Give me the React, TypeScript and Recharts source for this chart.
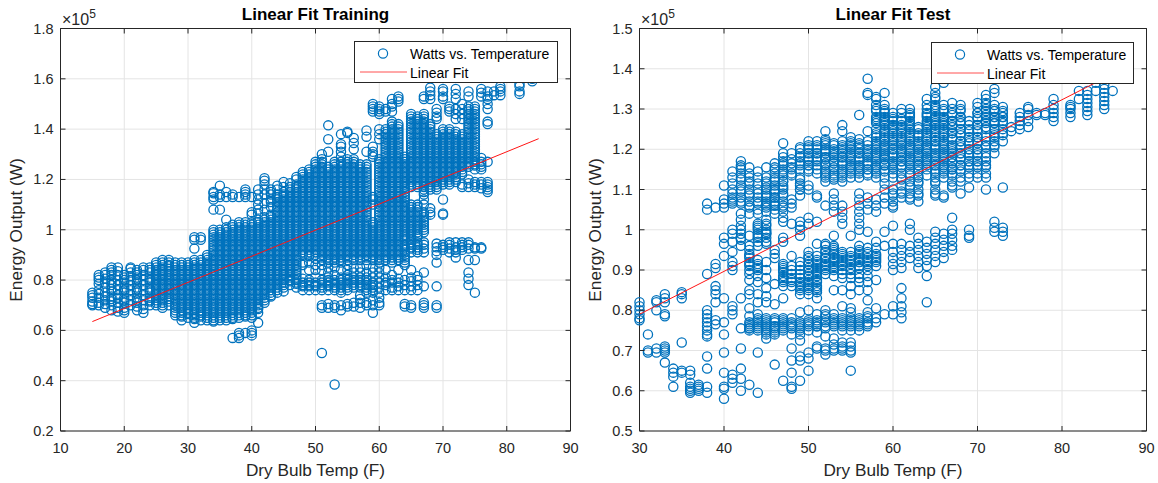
import { CartesianGrid, Scatter, ScatterChart, XAxis, YAxis } from "recharts";

// values: [dry bulb temp in F, [output in kW, ...]]
const trainColumns: [number, number[]][] = [
  [15, [70, 70.5, 71.5, 73, 74, 75]],
  [16, [70, 71, 73, 74.5, 76, 78.5, 80, 81, 82]],
  [17, [69, 70.5, 72, 73.5, 75, 77, 79, 80.5, 82, 83]],
  [18, [68, 70, 71.5, 73.5, 75.5, 78, 80, 82, 84, 85]],
  [19, [67.5, 69, 71, 73, 74, 76, 78, 80, 82, 83.5, 85]],
  [20, [67, 69, 71, 73, 75, 77, 79, 81, 82]],
  [21, [70, 72, 74, 76, 78, 80, 81.5, 83, 84.5, 85]],
  [22, [68, 69.5, 71, 73, 75, 77, 79, 81, 83, 84]],
  [23, [67, 68.5, 70, 72, 74, 76, 78, 80, 82, 84, 85]],
  [24, [70, 71.5, 73, 75, 77, 79, 81, 83, 85]],
  [25, [70, 72, 74, 76, 78, 80, 82, 84, 86, 87]],
  [26, [69, 71, 73, 75, 77, 79, 81, 83, 85, 87, 88]],
  [27, [70, 71.5, 73.5, 75.5, 77.5, 79.5, 81.5, 83.5, 85.5, 87, 88]],
  [28, [66, 68, 70, 72, 74, 76, 78, 80, 82, 84, 86, 87]],
  [29, [64, 65.5, 67, 69, 71, 73, 75, 77, 79, 81, 83, 85, 87]],
  [30, [65, 66.5, 68, 70, 72, 74, 76, 78, 80, 82, 84, 86, 87]],
  [31, [63, 64.5, 66, 68, 70, 72, 74, 76, 78, 80, 82, 84, 86, 88, 92.5, 96, 97]],
  [32, [64, 65.5, 67, 69, 71, 73, 75, 77, 79, 81, 83, 85, 87, 88, 96, 97]],
  [33, [64, 65, 67, 69, 71, 73, 75, 77, 79, 81, 83, 85, 87, 89, 90]],
  [34, [63.5, 65, 67, 69, 71, 73, 75, 77, 79, 81, 83, 85, 87, 89, 91, 93, 95, 97, 99, 100, 108, 112, 113, 114.5, 115]],
  [35, [64, 66, 68, 70, 72, 74, 76, 78, 80, 82, 84, 86, 88, 90, 92, 94, 96, 98, 100, 108, 113, 114, 117.5]],
  [36, [64, 65, 67, 69, 71, 73, 75, 77, 79, 81, 83, 85, 87, 89, 91, 93, 95, 97, 99, 101, 104, 113, 115]],
  [37, [57, 64.5, 66, 68, 70, 72, 74, 76, 78, 80, 82, 84, 86, 88, 90, 92, 94, 96, 98, 100, 102, 113, 114]],
  [38, [57, 58, 59, 65, 67, 69, 71, 73, 75, 77, 79, 81, 83, 85, 87, 89, 91, 93, 95, 97, 99, 101, 103, 113]],
  [39, [59, 65.5, 67, 69, 71, 73, 75, 77, 79, 81, 83, 85, 87, 89, 91, 93, 95, 97, 99, 101, 103, 113, 114, 115, 116]],
  [40, [58, 59, 60, 65, 67, 69, 71, 73, 75, 77, 79, 81, 83, 85, 87, 89, 91, 93, 95, 97, 99, 101, 103, 106, 107, 113]],
  [41, [63, 67, 68.5, 70, 72, 74, 76, 78, 80, 82, 84, 86, 88, 90, 92, 94, 96, 98, 100, 102, 104, 106.5, 108, 110, 112, 114, 116]],
  [42, [71, 73, 75, 77, 79, 81, 83, 85, 87, 89, 91, 93, 95, 97, 99, 101, 103, 105, 108, 110.5, 114, 116, 118, 119.5, 120.5]],
  [43, [73.5, 75, 77, 79, 81, 83, 85, 87, 89, 91, 93, 95, 97, 99, 101, 103, 105, 106, 109, 111, 112, 114, 115, 116]],
  [44, [75, 76, 78, 80, 82, 84, 86, 88, 90, 92, 94, 96, 98, 100, 102, 104, 106, 108, 110, 112, 114, 116, 117.5]],
  [45, [75.5, 77, 79, 81, 83, 85, 87, 89, 91, 93, 95, 97, 99, 101, 103, 105, 107, 109, 111, 113, 115, 117, 119]],
  [46, [78, 79.5, 81, 83, 85, 87, 89, 91, 93, 95, 97, 99, 101, 103, 105, 107, 109, 111, 113, 115, 117, 118.5]],
  [47, [77, 78.5, 80, 82, 84, 86, 88, 90, 92, 94, 96, 98, 100, 102, 104, 106, 108, 110, 112, 114, 116, 118, 120, 121]],
  [48, [76, 77.5, 79, 80.5, 86, 87, 90, 92, 94, 96, 98, 100, 102, 104, 106, 108, 110, 112, 114, 116, 118, 120, 122, 123]],
  [49, [76, 77.5, 79, 80, 84, 87, 89.5, 91, 93, 95, 97, 99, 101, 103, 105, 107, 109, 111, 113, 115, 117, 119, 121, 123, 124]],
  [50, [76, 77.5, 79, 81, 84, 86, 88.5, 90, 92, 94, 96, 98, 100, 102, 104, 106, 108, 110, 112, 114, 116, 118, 120, 122, 124, 126, 127]],
  [51, [51, 69, 70, 76, 78, 80, 84, 86, 88, 90, 92, 94, 96, 98, 100, 102, 104, 106, 108, 110, 112, 114, 116, 118, 120, 122, 124, 126, 128, 130]],
  [52, [69, 70.5, 76, 77.5, 79, 81, 83, 85, 87, 89, 91, 93, 95, 97, 99, 101, 103, 105, 107, 109, 111, 113, 115, 117, 119, 121, 123, 125, 131, 136, 141.5]],
  [53, [38.5, 69, 70, 76, 78, 80, 82, 85, 87, 89, 91, 93, 95, 97, 99, 101, 103, 105, 107, 109, 111, 113, 115, 117, 119, 121, 123, 125, 127]],
  [54, [68, 70, 75, 77, 79, 81, 84, 87, 89, 91, 93, 95, 97, 99, 101, 103, 105, 107, 109, 111, 113, 115, 117, 119, 121, 123, 125, 127, 129, 131, 133, 134, 138]],
  [55, [69.5, 70.5, 76, 78, 80, 82, 84, 86, 88, 90, 92, 94, 96, 98, 100, 102, 104, 106, 108, 110, 112, 114, 116, 118, 120, 122, 124, 126, 128, 138.5, 139]],
  [56, [69.5, 71, 77, 79, 81, 83, 85, 88, 90, 92, 94, 96, 98, 100, 102, 104, 106, 108, 110, 112, 114, 116, 118, 120, 122, 124, 126, 128, 132, 134.5, 136.5]],
  [57, [69, 71, 72.5, 74, 77, 79, 81, 83, 85, 88, 90, 92, 94, 96, 98, 100, 102, 104, 106, 108, 110, 112, 114, 116, 118, 120, 122, 124, 126]],
  [58, [70, 71, 75, 77, 79, 81, 83, 86, 88, 90, 92, 94, 96, 98, 100, 102, 104, 106, 108, 110, 112, 114, 116, 118, 120, 122, 124, 126, 131, 137, 139.5]],
  [59, [67, 70, 72, 75, 77, 79, 81, 83, 85, 88, 90, 92, 94, 96, 98, 100, 102, 103, 110, 112, 113, 129, 130, 131, 133, 147, 148, 149, 150]],
  [60, [70, 71, 73, 75, 77, 79, 81, 83, 85, 87, 89, 91, 93, 95, 97, 99, 101, 103, 105, 107, 109, 111, 113, 115, 117, 119, 121, 123, 125, 127, 128, 136, 138, 140, 146, 147, 148, 149]],
  [61, [76, 78, 79, 81, 84, 88, 90, 92, 94, 96, 98, 100, 102, 104, 106, 108, 110, 112, 114, 116, 118, 120, 122, 124, 126, 128, 130, 132, 134, 136, 138, 140, 147, 148]],
  [62, [76, 77, 79, 80, 82, 87, 89, 91, 93, 95, 97, 99, 101, 103, 105, 107, 109, 111, 113, 115, 117, 119, 121, 123, 125, 127, 129, 131, 133, 135, 137, 139, 141, 143, 147, 149, 150, 152]],
  [63, [76, 77.5, 79, 80.5, 84, 88, 90, 92, 94, 96, 98, 100, 102, 104, 106, 108, 110, 112, 114, 116, 118, 120, 122, 124, 126, 128, 130, 132, 134, 136, 138, 140, 142, 151, 152, 153]],
  [64, [69.5, 70.5, 76, 78, 80, 86, 88, 90, 92, 94, 97, 99, 101, 103, 105, 107, 109, 111, 113, 115, 117, 119, 121, 123, 125, 127, 129]],
  [65, [69, 70, 76, 77.5, 79.5, 81, 84, 91, 92.5, 94, 96, 98, 100, 102, 104, 106, 108, 110, 117, 119, 121, 123, 125, 127, 129, 131, 133, 135, 137, 139, 141, 143, 145, 146]],
  [66, [76, 78, 80, 81.5, 91, 93, 95, 98, 100, 102, 104, 106, 108, 110, 117, 119, 121, 123, 125, 127, 129, 131, 133, 135, 137, 139, 141, 143, 145]],
  [67, [69, 70, 71, 77.5, 83, 91, 92.5, 94, 95, 99, 101, 103, 105, 107, 110, 112, 114, 116, 118, 120, 122, 124, 126, 128, 130, 132, 134, 136, 138, 140, 142, 144, 146, 152, 153]],
  [68, [106, 107, 108.5, 116, 118, 120, 122, 124, 126, 128, 130, 132, 134, 136, 138, 140, 142, 152, 153.5, 155, 156.5]],
  [69, [69, 70, 77.5, 87, 90, 91.5, 93, 94.5, 116, 118, 120, 122, 124, 126, 128, 130, 132, 134, 136, 138, 144, 145, 146.5, 148]],
  [70, [92, 93, 94, 106, 106.5, 112, 118, 120, 122, 124, 126, 128, 130, 132, 134, 136, 138, 140, 152, 153, 155, 156]],
  [71, [91, 92.5, 94, 95, 118, 120, 122, 124, 126, 128, 130, 132, 134, 136, 138, 140, 147, 148, 149]],
  [72, [89, 91, 92, 93, 95, 119, 121, 123, 125, 127, 129, 131, 133, 135, 137, 139, 144, 146, 148, 152, 154, 156]],
  [73, [92, 93, 94, 95, 117, 118, 122, 124, 126, 128, 130, 132, 134, 136, 138, 144, 146, 148, 150]],
  [74, [78, 80.5, 83, 88, 92.5, 94, 95, 117, 118.5, 120, 125, 127, 129, 131, 133, 135, 137, 139, 141, 143, 145, 147, 149, 153, 155]],
  [75, [75, 88, 92.5, 93, 117, 118, 119, 124, 125.5, 127, 129, 131, 133, 135, 137, 139, 141, 143, 145, 147, 149]],
  [76, [92.5, 93, 116.5, 118, 119, 124, 125, 126, 127, 128.5, 153, 154.5, 156]],
  [77, [115, 116, 117, 118, 119, 127, 142, 143, 148, 150, 152, 153, 155]],
  [78, [153.5, 155]],
  [79, [153.5, 155, 156, 157]],
  [82, [154, 155, 157, 158]],
  [84, [159, 160]],
];

// second pass over the crowded stretches of the training cloud
const trainCrowded: [number, number[]][] = [
  [18, [72.5, 76.5, 79, 83]],
  [20, [68, 72, 76, 80]],
  [22, [72, 76, 80, 82]],
  [24, [72, 76, 80, 84]],
  [25, [71, 73, 75, 77, 79, 81, 83, 85]],
  [26, [70, 72, 74, 76, 78, 80, 82, 84, 86]],
  [27, [72.5, 74.5, 76.5, 78.5, 80.5, 82.5, 84.5, 86]],
  [28, [67, 69, 71, 73, 75, 77, 79, 81, 83, 85]],
  [29, [66, 68, 70, 72, 74, 76, 78, 80, 82, 84, 86]],
  [30, [67, 69, 71, 73, 75, 77, 79, 81, 83, 85]],
  [31, [65, 67, 69, 71, 73, 75, 77, 79, 81, 83, 85, 87]],
  [32, [66, 68, 70, 72, 74, 76, 78, 80, 82, 84, 86]],
  [33, [66, 68, 70, 72, 74, 76, 78, 80, 82, 84, 86, 88]],
  [34, [64, 66, 68, 70, 72, 74, 76, 78, 80, 82, 84, 86, 88, 90, 92, 94, 96, 98]],
  [35, [65, 67, 69, 71, 73, 75, 77, 79, 81, 83, 85, 87, 89, 91, 93, 95, 97, 99]],
  [36, [66, 68, 70, 72, 74, 76, 78, 80, 82, 84, 86, 88, 90, 92, 94, 96, 98, 100]],
  [37, [65, 67, 69, 71, 73, 75, 77, 79, 81, 83, 85, 87, 89, 91, 93, 95, 97, 99, 101]],
  [38, [66, 68, 70, 72, 74, 76, 78, 80, 82, 84, 86, 88, 90, 92, 94, 96, 98, 100, 102]],
  [39, [66, 68, 70, 72, 74, 76, 78, 80, 82, 84, 86, 88, 90, 92, 94, 96, 98, 100, 102]],
  [40, [66, 68, 70, 72, 74, 76, 78, 80, 82, 84, 86, 88, 90, 92, 94, 96, 98, 100, 102]],
  [41, [69, 71, 73, 75, 77, 79, 81, 83, 85, 87, 89, 91, 93, 95, 97, 99, 101, 103]],
  [42, [72, 74, 76, 78, 80, 82, 84, 86, 88, 90, 92, 94, 96, 98, 100, 102, 104]],
  [43, [74, 76, 78, 80, 82, 84, 86, 88, 90, 92, 94, 96, 98, 100, 102, 104]],
  [44, [77, 79, 81, 83, 85, 87, 89, 91, 93, 95, 97, 99, 101, 103, 105, 107, 109, 111, 113]],
  [45, [78, 80, 82, 84, 86, 88, 90, 92, 94, 96, 98, 100, 102, 104, 106, 108, 110, 112, 114]],
  [46, [80, 82, 84, 86, 88, 90, 92, 94, 96, 98, 100, 102, 104, 106, 108, 110, 112, 114, 116]],
  [47, [79, 81, 83, 85, 87, 89, 91, 93, 95, 97, 99, 101, 103, 105, 107, 109, 111, 113, 115, 117]],
  [48, [78, 91, 93, 95, 97, 99, 101, 103, 105, 107, 109, 111, 113, 115, 117, 119, 121]],
  [49, [78, 90, 92, 94, 96, 98, 100, 102, 104, 106, 108, 110, 112, 114, 116, 118, 120, 122]],
  [50, [78, 91, 93, 95, 97, 99, 101, 103, 105, 107, 109, 111, 113, 115, 117, 119, 121, 123, 125]],
  [51, [77, 79, 89, 91, 93, 95, 97, 99, 101, 103, 105, 107, 109, 111, 113, 115, 117, 119, 121, 123, 125, 127]],
  [52, [78, 80, 88, 90, 92, 94, 96, 98, 100, 102, 104, 106, 108, 110, 112, 114, 116, 118, 120, 122, 124]],
  [53, [77, 79, 88, 90, 92, 94, 96, 98, 100, 102, 104, 106, 108, 110, 112, 114, 116, 118, 120, 122, 124, 126]],
  [54, [76, 78, 80, 88, 90, 92, 94, 96, 98, 100, 102, 104, 106, 108, 110, 112, 114, 116, 118, 120, 122, 124, 126]],
  [55, [77, 79, 81, 89, 91, 93, 95, 97, 99, 101, 103, 105, 107, 109, 111, 113, 115, 117, 119, 121, 123, 125, 127]],
  [56, [78, 80, 89, 91, 93, 95, 97, 99, 101, 103, 105, 107, 109, 111, 113, 115, 117, 119, 121, 123, 125, 127]],
  [57, [78, 80, 89, 91, 93, 95, 97, 99, 101, 103, 105, 107, 109, 111, 113, 115, 117, 119, 121, 123, 125]],
  [58, [76, 78, 80, 89, 91, 93, 95, 97, 99, 101, 103, 105, 107, 109, 111, 113, 115, 117, 119, 121, 123, 125]],
  [59, [76, 78, 89, 91, 93, 95, 97, 99, 101]],
  [60, [88, 90, 92, 94, 96, 98, 100, 102, 104, 106, 108, 110, 112, 114, 116, 118, 120, 122, 124, 126]],
  [61, [89, 91, 93, 95, 97, 99, 101, 103, 105, 107, 109, 111, 113, 115, 117, 119, 121, 123, 125, 127, 129, 131, 133, 135, 137, 139]],
  [62, [88, 90, 92, 94, 96, 98, 100, 102, 104, 106, 108, 110, 112, 114, 116, 118, 120, 122, 124, 126, 128, 130, 132, 134, 136, 138, 140, 142]],
  [63, [89, 91, 93, 95, 97, 99, 101, 103, 105, 107, 109, 111, 113, 115, 117, 119, 121, 123, 125, 127, 129, 131, 133, 135, 137, 139, 141]],
  [64, [87, 89, 91, 93, 96, 98, 100, 102, 104, 106, 108, 110, 112, 114, 116, 118, 120, 122, 124, 126, 128]],
  [65, [93, 95, 97, 99, 101, 103, 105, 107, 109, 118, 120, 122, 124, 126, 128, 130, 132, 134, 136, 138, 140, 142, 144]],
  [66, [92, 94, 97, 99, 101, 103, 105, 107, 109, 118, 120, 122, 124, 126, 128, 130, 132, 134, 136, 138, 140, 142, 144]],
  [67, [100, 102, 104, 106, 115, 117, 119, 121, 123, 125, 127, 129, 131, 133, 135, 137, 139, 141, 143, 145]],
  [68, [117, 119, 121, 123, 125, 127, 129, 131, 133, 135, 137, 139, 141]],
  [69, [117, 119, 121, 123, 125, 127, 129, 131, 133, 135, 137]],
  [70, [119, 121, 123, 125, 127, 129, 131, 133, 135, 137, 139]],
  [71, [119, 121, 123, 125, 127, 129, 131, 133, 135, 137, 139]],
  [72, [120, 122, 124, 126, 128, 130, 132, 134, 136, 138]],
  [73, [123, 125, 127, 129, 131, 133, 135, 137]],
  [74, [126, 128, 130, 132, 134, 136, 138, 140, 142, 144, 146, 148]],
  [75, [126, 128, 130, 132, 134, 136, 138, 140, 142, 144, 146, 148]],
];

const testColumns: [number, number[]][] = [
  [30, [77.5, 78, 79, 80, 81, 82]],
  [31, [69.5, 70, 74]],
  [32, [69.5, 70.5, 80, 82, 82.5]],
  [33, [67, 69.5, 70, 70.5, 71, 78.5, 79, 82, 83, 84]],
  [34, [61, 63.5, 64.5, 65.5]],
  [35, [64.5, 65, 72, 83, 84, 84.5]],
  [36, [59.5, 60, 60.5, 61, 62, 64, 65]],
  [37, [60, 60.5, 61, 61.5]],
  [38, [59.5, 61, 65.5, 68.5, 73.5, 74, 75, 76, 77, 78, 79, 80, 89, 105, 106.5]],
  [39, [76.5, 77.5, 82, 84, 85, 86, 90.5, 91.5, 105.5]],
  [40, [58, 60.5, 61, 64.5, 69.5, 74, 77, 83, 93.5, 96.5, 98, 105.5, 106.5, 107.5, 111]],
  [41, [62, 63, 64, 79, 80, 81, 90, 91, 92, 94.5, 97, 99, 100, 106.5, 107, 109, 111.5, 114.5]],
  [42, [60, 63, 65.5, 70.5, 75.5, 83, 97.5, 99, 100, 101, 102.5, 106.5, 108, 109.5, 111, 112.5, 114, 115, 116, 117]],
  [43, [61.5, 75, 75.5, 76, 77, 78.5, 80.5, 84, 85, 87.5, 90, 91, 92, 93, 94, 95, 98.5, 105.5, 107, 108.5, 110, 111.5, 113, 114, 115.5]],
  [44, [59.5, 69.5, 75.5, 76.5, 77.5, 79, 82, 84, 87, 88.5, 90, 91, 92.5, 96, 97, 98, 99, 100, 101, 101.5, 104, 106.5, 108, 109, 111.5, 114.5]],
  [45, [73, 74, 75, 76, 77, 78, 82, 83.5, 85.5, 88, 90, 92, 96.5, 98, 99, 100, 101, 102.5, 105.5, 107, 108, 109, 110, 111.5, 113, 115.5]],
  [46, [66.5, 74, 75, 76, 77, 78, 81.5, 86.5, 93, 94, 95, 105, 106, 107, 108, 109, 110, 111, 112.5, 114, 115.5, 116.5]],
  [47, [62.5, 75, 76, 77, 78, 83, 86, 87, 88, 89.5, 90.5, 91.5, 97, 98, 102, 103, 105.5, 107, 108.5, 110, 111, 112, 113.5, 115, 116.5, 118, 119, 121.5]],
  [48, [60.5, 61, 64.5, 67.5, 70.5, 74, 75.5, 77, 78, 86, 87, 89, 91, 93.5, 101.5, 105.5, 107.5, 113.5, 115, 116.5, 119]],
  [49, [62.5, 67.5, 68.5, 72.5, 74, 75.5, 77, 79.5, 84, 85, 87, 89, 91, 98.5, 100, 101, 102, 108.5, 110, 111, 112.5, 115, 116.5, 118, 120, 120.5]],
  [50, [65, 68, 69.5, 75, 76.5, 77.5, 80, 84, 85.5, 87, 88.5, 90, 91.5, 93, 94.5, 101.5, 103, 110, 111, 114.5, 116, 117.5, 119, 120.5, 122]],
  [51, [70.5, 71, 74.5, 76, 77.5, 79, 83, 84.5, 86, 87.5, 89, 90.5, 92, 93.5, 96.5, 102, 108, 108.5, 114, 116, 117.5, 119, 120.5, 122]],
  [52, [69, 70, 70.5, 73.5, 75.5, 77, 78.5, 80, 90, 91.5, 93, 94.5, 96.5, 106, 112, 113.5, 115, 116.5, 118, 119.5, 121, 122.5, 124.5]],
  [53, [70, 70.5, 71.5, 73, 76, 77.5, 79, 85, 90, 91.5, 93, 94.5, 96, 98.5, 104.5, 106, 107.5, 109, 112.5, 114, 115.5, 117, 118.5, 120, 121.5]],
  [54, [70, 70.5, 71, 72, 75, 76.5, 78, 81, 85, 88, 90, 91.5, 93, 94.5, 101.5, 103, 104.5, 106, 112, 113.5, 115, 116.5, 118, 119.5, 121, 122, 124.5, 126]],
  [55, [65, 69.5, 70, 71, 72, 75, 76.5, 78, 79.5, 80.5, 84, 86, 88, 90, 91.5, 93.5, 98.5, 113, 114.5, 116, 117.5, 119, 120.5, 122, 123]],
  [56, [75, 76.5, 78, 85, 87, 89, 90.5, 92, 93.5, 95, 96, 100, 101.5, 103, 104.5, 106, 107.5, 109, 113, 114.5, 116, 117.5, 119, 120.5, 122.5, 128.5]],
  [57, [76, 77, 78, 79.5, 82.5, 85, 87, 88.5, 91, 92.5, 94, 95.5, 99.5, 105, 106.5, 108, 113.5, 115, 116.5, 118, 119.5, 121, 124.5, 133.5, 134, 137.5]],
  [58, [77, 78, 80.5, 87.5, 91, 92.5, 94, 95.5, 97, 104.5, 106, 107.5, 113, 114.5, 116, 117.5, 119, 120.5, 122, 123.5, 125, 126.5, 128, 129.5, 131, 132.5]],
  [59, [79, 96, 99.5, 106.5, 108, 110, 111.5, 113, 114.5, 116, 117.5, 119, 120.5, 122, 123.5, 125, 126.5, 128, 129.5, 131, 134]],
  [60, [79, 81, 90, 91.5, 93, 94.5, 96.5, 101, 105.5, 107, 108.5, 110, 114, 115.5, 117, 118.5, 120, 121.5, 123, 124.5, 126, 127.5, 129]],
  [61, [78, 79.5, 81, 83, 85.5, 90.5, 92, 93.5, 95, 96.5, 108, 109.5, 111, 112.5, 114, 115.5, 117, 118.5, 120, 121.5, 123, 124.5, 126, 127.5, 129, 130]],
  [62, [93, 94.5, 96, 100, 101.5, 107.5, 109, 110.5, 112, 113.5, 115, 116.5, 118, 119.5, 121, 122.5, 124, 125.5, 127, 128.5, 130]],
  [63, [90.5, 92, 93.5, 95, 96.5, 98, 107, 108.5, 110, 111.5, 113, 114.5, 116, 117.5, 119, 120.5, 122, 123.5, 125, 125.5]],
  [64, [82, 88.5, 91, 92.5, 94, 95.5, 97, 113.5, 115, 116.5, 118, 119.5, 121, 122.5, 124, 125.5, 127, 128.5, 130, 132.5]],
  [65, [92, 93.5, 95, 96.5, 98, 99.5, 108.5, 110, 111.5, 113, 114.5, 116, 117.5, 119, 120.5, 122, 123.5, 125, 126.5, 128, 129.5, 131, 132.5, 134, 135.5]],
  [66, [93, 94.5, 96, 97.5, 99, 108, 108.5, 113, 114.5, 116, 117.5, 119, 120.5, 122, 123.5, 125, 126.5, 128, 129.5, 131, 136.5]],
  [67, [95, 96, 97.5, 99, 100, 103, 110.5, 112, 113.5, 115, 116.5, 118, 119.5, 121, 122.5, 124, 125.5, 127, 128.5, 130, 131.5]],
  [68, [109, 113, 114.5, 116, 117.5, 119, 120.5, 122, 123.5, 125, 126.5, 128, 129.5, 131]],
  [69, [98, 98.5, 100, 110.5, 114, 115.5, 117, 118.5, 120, 121.5, 123, 124.5, 126, 127]],
  [70, [114, 115.5, 117, 118.5, 120, 121.5, 123, 124.5, 126, 127.5, 129, 130.5, 131.5]],
  [71, [110, 114, 115.5, 117, 119, 120.5, 122, 125.5, 127, 128.5, 130, 131.5, 132.5, 133.5]],
  [72, [99.5, 100.5, 102, 119, 120.5, 122, 123.5, 125, 126.5, 128, 129.5, 131, 134, 135]],
  [73, [98.5, 99.5, 100.5, 110.5, 122, 123.5, 125, 126.5, 128, 129.5, 130.5]],
  [74, [124.5, 125.5]],
  [75, [125, 126, 127, 128, 129]],
  [76, [125.5, 127, 128.5, 130, 130.5]],
  [77, [128.5, 129]],
  [78, [128.5, 129]],
  [79, [127, 128, 129, 130, 131, 132.5]],
  [81, [128, 129, 130, 130.5, 131]],
  [82, [132.5, 134.5]],
  [83, [128.5, 129.5, 130.5, 131.5, 132.5, 133.5, 134.5]],
  [84, [134.5, 136.5]],
  [85, [130, 131, 132, 133, 134, 135, 136]],
  [86, [134.5]],
];

// second pass over the crowded stretches of the test cloud
const testCrowded: [number, number[]][] = [
  [41, [107.5, 108, 110, 113]],
  [42, [96, 98, 104, 107, 110, 113, 115.5]],
  [43, [75.5, 76.5, 89, 91.5, 93.5, 96, 104, 106, 109, 112]],
  [44, [75, 76, 77, 78, 90.5, 91.5, 98.5, 100.5, 105, 107, 110, 113]],
  [45, [74.5, 75.5, 76.5, 77.5, 97, 99, 99.5, 101.5, 104.5, 106, 106.5, 108.5, 110.5, 112]],
  [46, [74.5, 75.5, 76, 77.5, 104, 106, 106.5, 108, 109.5, 110, 112, 113, 115]],
  [47, [75.5, 76.5, 77.5, 87.5, 88.5, 90, 91, 104.5, 106, 109, 110.5, 112, 114, 114.5, 116, 117]],
  [48, [76, 76.5, 87.5, 88, 90, 106.5, 114, 115.5, 117.5]],
  [49, [75, 76, 76.5, 85.5, 86, 86.5, 88, 90, 92, 110, 111.5, 113, 116, 117, 118, 119]],
  [50, [76, 77, 85, 86, 86.5, 87.5, 89, 90.5, 92, 93.5, 115, 116, 117, 118, 119, 120, 121]],
  [51, [76, 76.5, 77, 85, 85.5, 87, 88.5, 89.5, 90, 91, 91.5, 92.5, 115, 117, 118, 119, 120, 121]],
  [52, [76, 77.5, 79, 89, 90.5, 91, 92, 93, 93.5, 95, 96, 113, 114, 114.5, 116, 117.5, 118, 119, 120, 121.5, 122]],
  [53, [76.5, 77, 78, 88.5, 90.5, 91, 92, 92.5, 93, 94, 95, 95.5, 113, 113.5, 115, 116.5, 118, 119, 119.5, 121]],
  [54, [76, 77, 77.5, 89, 91, 92, 92.5, 93.5, 94, 113, 114, 114.5, 116, 117, 118, 119, 120, 120.5]],
  [55, [76, 77, 77.5, 89, 90.5, 92, 92.5, 93, 94.5, 114, 115, 115.5, 117, 118, 118.5, 120, 121, 121.5]],
  [56, [76, 77, 77.5, 88, 91, 92, 92.5, 93, 94, 94.5, 114, 115, 115.5, 117, 118, 119, 120, 121, 121.5]],
  [57, [76.5, 78.5, 90, 91.5, 92, 93, 94.5, 114, 115, 116, 117, 118.5, 119, 120, 122]],
  [58, [92, 93, 93.5, 114, 115, 115.5, 117, 118, 118.5, 120, 121, 121.5, 123, 124, 127, 127.5, 130, 133]],
  [59, [115, 116, 116.5, 118, 118.5, 119.5, 120, 121, 122.5, 123, 124, 124.5, 126, 127, 127.5, 129, 130]],
  [60, [106, 109, 113, 115, 116, 116.5, 118, 119, 120, 121, 122, 122.5, 124, 125, 125.5, 127, 128]],
  [61, [109, 113, 116, 117, 118, 119, 119.5, 121, 122, 122.5, 124, 125, 125.5, 127]],
  [62, [108, 111, 114, 116, 117, 117.5, 119, 120, 120.5, 122, 123, 123.5, 125, 126, 126.5, 128, 129]],
  [63, [109, 112, 113.5, 115, 116, 117, 118, 118.5, 120, 121, 121.5, 123, 124]],
  [64, [116, 117, 117.5, 119, 120, 120.5, 122, 123, 123.5, 125, 126, 126.5, 128, 129, 131]],
  [65, [109, 112, 114, 115, 116, 117, 118, 118.5, 120, 121, 122, 123, 124, 124.5, 126, 127, 127.5, 130, 130.5, 133]],
  [66, [114, 115, 115.5, 117, 118, 118.5, 120, 121, 121.5, 123, 124, 124.5, 126, 127, 127.5, 130]],
  [67, [111, 114, 115, 115.5, 117, 118, 119, 120, 120.5, 123, 124, 124.5, 126, 127, 129]],
  [68, [112, 115, 116, 118, 119, 121, 122, 124, 125, 127, 128, 130]],
  [69, [113, 116, 117, 119, 120, 122, 123, 125]],
  [70, [113, 116, 117, 119, 120, 122, 123, 125, 126, 128, 129]],
  [71, [113, 116, 118, 121, 123, 125, 126.5, 128, 129.5, 131]],
  [72, [121, 123, 124, 125, 126.5, 127, 128, 129.5, 130]],
  [73, [124, 127, 128, 129]],
];

const trainFitTemps = [15, 85];
const trainFitOutput = [63.5, 136.2];
const testFitTemps = [30, 86];
const testFitOutput = [79, 138.7];

const trainXTicks = [10, 20, 30, 40, 50, 60, 70, 80, 90];
const trainYTicks = [0.2, 0.4, 0.6, 0.8, 1, 1.2, 1.4, 1.6, 1.8];
const testXTicks = [30, 40, 50, 60, 70, 80, 90];
const testYTicks = [0.5, 0.6, 0.7, 0.8, 0.9, 1, 1.1, 1.2, 1.3, 1.4, 1.5];

const BLUE = "#0072BD";
const INK = "#262626";
const FONT = "'Liberation Sans', Arial, sans-serif";

const toRows = (columns: [number, number[]][]) =>
  columns.flatMap(([temp, values]) =>
    values.map((v) => ({ temp, watts: v / 100 })),
  );

const toFit = (temps: number[], output: number[]) =>
  temps.map((temp, i) => ({ temp, watts: output[i] / 100 }));

const Ring = ({ cx, cy }: any) => (
  <circle cx={cx} cy={cy} r={4.6} fill="none" stroke={BLUE} strokeWidth={1.3} />
);

const NoMark = () => <g />;

const BottomTick = ({ x, y, payload }: any) => (
  <g>
    <line x1={x} x2={x} y1={y} y2={y - 5} stroke={INK} />
    <text x={x} y={y + 22} textAnchor="middle" fontSize={14.5} fontFamily={FONT} fill={INK}>
      {payload.value}
    </text>
  </g>
);

const TopTick = ({ x, y }: any) => (
  <line x1={x} x2={x} y1={y} y2={y + 5} stroke={INK} />
);

const LeftTick = ({ x, y, payload }: any) => (
  <g>
    <line x1={x} x2={x + 5} y1={y} y2={y} stroke={INK} />
    <text x={x - 7} y={y + 5} textAnchor="end" fontSize={14.5} fontFamily={FONT} fill={INK}>
      {payload.value}
    </text>
  </g>
);

const RightTick = ({ x, y }: any) => (
  <line x1={x} x2={x - 5} y1={y} y2={y} stroke={INK} />
);

const label = (style: React.CSSProperties): React.CSSProperties => ({
  position: "absolute",
  fontFamily: FONT,
  color: INK,
  whiteSpace: "nowrap",
  lineHeight: 1,
  ...style,
});

function FitLegend({ left, top, width }: { left: number; top: number; width: number }) {
  return (
    <div
      style={{
        position: "absolute",
        left,
        top,
        width,
        height: 42,
        boxSizing: "border-box",
        background: "#fff",
        border: `1px solid ${INK}`,
      }}
    >
      <svg width={52} height={40} style={{ position: "absolute", left: 0, top: 0 }}>
        <circle cx={28} cy={11.5} r={4.6} fill="none" stroke={BLUE} strokeWidth={1.2} />
        <line x1={5} x2={52} y1={30} y2={30} stroke="#ff5050" strokeWidth={1} />
      </svg>
      <div style={label({ left: 55, top: 5, fontSize: 14, color: "#000" })}>Watts vs. Temperature</div>
      <div style={label({ left: 55, top: 24, fontSize: 14, color: "#000" })}>Linear Fit</div>
    </div>
  );
}

interface PanelProps {
  left: number;
  right: number;
  title: string;
  rows: { temp: number; watts: number }[];
  fit: { temp: number; watts: number }[];
  xDomain: number[];
  xTicks: number[];
  yDomain: number[];
  yTicks: number[];
}

function Panel({ left, right, title, rows, fit, xDomain, xTicks, yDomain, yTicks }: PanelProps) {
  const center = 60.5 + (579 - 60.5 - right) / 2;
  return (
    <div style={{ position: "absolute", left, top: 0, width: 579, height: 483 }}>
      <ScatterChart
        width={579}
        height={483}
        margin={{ top: 27.5, right: right - 1, bottom: 0, left: 0 }}
      >
        <CartesianGrid stroke="#e4e4e4" horizontalValues={yTicks} verticalValues={xTicks} />
        <XAxis
          type="number"
          dataKey="temp"
          domain={xDomain}
          ticks={xTicks}
          height={52}
          interval={0}
          stroke={INK}
          tickLine={false}
          tickSize={0}
          tickMargin={0}
          tick={BottomTick}
        />
        <XAxis
          xAxisId="top"
          orientation="top"
          type="number"
          dataKey="temp"
          domain={xDomain}
          ticks={xTicks}
          height={1}
          interval={0}
          stroke={INK}
          tickLine={false}
          tickSize={0}
          tickMargin={0}
          tick={TopTick}
        />
        <YAxis
          type="number"
          dataKey="watts"
          domain={yDomain}
          ticks={yTicks}
          width={60.5}
          interval={0}
          stroke={INK}
          tickLine={false}
          tickSize={0}
          tickMargin={0}
          tick={LeftTick}
        />
        <YAxis
          yAxisId="right"
          orientation="right"
          type="number"
          dataKey="watts"
          domain={yDomain}
          ticks={yTicks}
          width={1}
          interval={0}
          stroke={INK}
          tickLine={false}
          tickSize={0}
          tickMargin={0}
          tick={RightTick}
        />
        <Scatter data={rows} shape={Ring} isAnimationActive={false} />
        <Scatter
          data={fit}
          shape={NoMark}
          line={{ stroke: "#ff1414", strokeWidth: 1 }}
          isAnimationActive={false}
        />
        {/* keeps the box axes on the top and right alive */}
        <Scatter data={fit} xAxisId="top" yAxisId="right" shape={NoMark} isAnimationActive={false} />
      </ScatterChart>
      <div style={label({ left: center, top: 6, fontSize: 17, fontWeight: 700, color: "#000", transform: "translateX(-50%)" })}>
        {title}
      </div>
      <div style={label({ left: center, top: 462, fontSize: 17.2, transform: "translateX(-50%)" })}>
        Dry Bulb Temp (F)
      </div>
      <div
        style={label({
          left: 17,
          top: 230,
          fontSize: 17.2,
          transform: "translate(-50%, -50%) rotate(-90deg)",
        })}
      >
        Energy Output (W)
      </div>
      <div style={label({ left: 62, top: 12, fontSize: 16 })}>
        ×10<span style={{ fontSize: 12, position: "relative", top: -7 }}>5</span>
      </div>
    </div>
  );
}

export default function App() {
  return (
    <div style={{ position: "absolute", left: 0, top: 0, width: 1158, height: 483, background: "#fff", overflow: "hidden" }}>
      <Panel
        left={0}
        right={8.5}
        title="Linear Fit Training"
        rows={toRows(trainColumns.concat(trainCrowded))}
        fit={toFit(trainFitTemps, trainFitOutput)}
        xDomain={[10, 90]}
        xTicks={trainXTicks}
        yDomain={[0.2, 1.8]}
        yTicks={trainYTicks}
      />
      <Panel
        left={579}
        right={11.5}
        title="Linear Fit Test"
        rows={toRows(testColumns.concat(testCrowded))}
        fit={toFit(testFitTemps, testFitOutput)}
        xDomain={[30, 90]}
        xTicks={testXTicks}
        yDomain={[0.5, 1.5]}
        yTicks={testYTicks}
      />
      <FitLegend left={354} top={41} width={204} />
      <FitLegend left={931} top={42} width={203} />
    </div>
  );
}
